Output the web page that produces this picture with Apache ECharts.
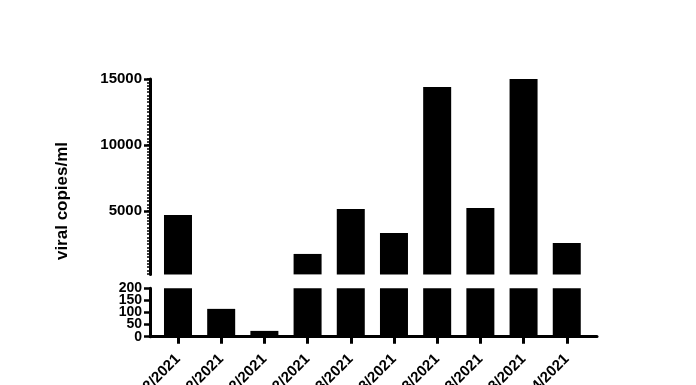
<!DOCTYPE html>
<html>
<head>
<meta charset="utf-8">
<script src="https://cdn.jsdelivr.net/npm/echarts@6/dist/echarts.min.js"></script>
<style>html,body{margin:0;padding:0;background:#fff}#c{width:696px;height:385px}</style>
</head>
<body>
<div id="c"></div>
<script>
const categories = ["01/02/2021","08/02/2021","15/02/2021","22/02/2021","01/03/2021","08/03/2021","15/03/2021","22/03/2021","29/03/2021","05/04/2021"];
const viralCopies = [4700, 115, 24, 1750, 5150, 3330, 14400, 5230, 15000, 2580];
const topMajorTicks = [5000, 10000, 15000];
const bottomTicks = [0, 50, 100, 150, 200];
const yTitle = "viral copies/ml";

const topMinorTicks = [];
for (let v = 250; v <= 15000; v += 250) topMinorTicks.push(v);
const idx = categories.map((_, i) => i);
const pairs = viralCopies.map((v, i) => [i, v]);
const bottomEven = bottomTicks.filter((_, i) => i % 2 === 0);
const bottomOdd = bottomTicks.filter((_, i) => i % 2 === 1);

const FONT = "Liberation Sans, Arial, sans-serif";
const chart = echarts.init(document.getElementById('c'), null, {renderer: 'canvas'});
const axisLine = {show: true, onZero: false, lineStyle: {color: '#000', width: 3}};
const plain = v => String(v);
const bottomLabel = vals => ({customValues: vals, formatter: plain, showMinLabel: true, showMaxLabel: true, hideOverlap: false,
  margin: 8, color: '#000', fontFamily: FONT, fontWeight: 'bold', fontSize: 14, lineHeight: 10});
chart.setOption({
  animation: false,
  backgroundColor: '#fff',
  grid: [
    {left: 150, width: 447, top: 79, height: 195.4, containLabel: false, outerBoundsMode: 'none'},
    {left: 150, width: 447, top: 288.3, height: 48.4, containLabel: false, outerBoundsMode: 'none'}
  ],
  xAxis: [
    {gridIndex: 0, type: 'value', min: -0.648, max: 9.70, show: false},
    {gridIndex: 1, type: 'value', min: -0.648, max: 9.70,
     axisLine: axisLine,
     axisTick: {show: true, customValues: idx, length: 7, lineStyle: {color: '#000', width: 3}},
     axisLabel: {customValues: idx, formatter: v => categories[Math.round(v)], rotate: 45, margin: 20, hideOverlap: false,
       color: '#000', fontFamily: FONT, fontWeight: 'bold', fontSize: 15},
     splitLine: {show: false}}
  ],
  yAxis: [
    {gridIndex: 0, type: 'value', position: 'left', min: 200, max: 15000, axisLine: axisLine,
     axisTick: {show: true, customValues: topMajorTicks, length: 6, lineStyle: {color: '#000', width: 2.5}},
     axisLabel: {customValues: topMajorTicks, formatter: plain, showMaxLabel: true, margin: 8, color: '#000', fontFamily: FONT, fontWeight: 'bold', fontSize: 15},
     splitLine: {show: false}},
    {gridIndex: 0, type: 'value', position: 'left', min: 200, max: 15000, axisLine: {show: false, onZero: false},
     axisTick: {show: true, customValues: topMinorTicks, length: 3, lineStyle: {color: '#000', width: 1.5}},
     axisLabel: {show: false}, splitLine: {show: false}},
    {gridIndex: 1, type: 'value', position: 'left', min: 0, max: 200, axisLine: axisLine,
     axisTick: {show: true, customValues: bottomEven, length: 6, lineStyle: {color: '#000', width: 2.5}},
     axisLabel: bottomLabel(bottomEven), splitLine: {show: false}},
    {gridIndex: 1, type: 'value', position: 'left', min: 0, max: 200, axisLine: {show: false, onZero: false},
     axisTick: {show: true, customValues: bottomOdd, length: 6, lineStyle: {color: '#000', width: 2.5}},
     axisLabel: bottomLabel(bottomOdd), splitLine: {show: false}}
  ],
  series: [
    {type: 'bar', xAxisIndex: 0, yAxisIndex: 0, data: pairs, barWidth: 28, clip: true, itemStyle: {color: '#000'}},
    {type: 'bar', xAxisIndex: 1, yAxisIndex: 2, data: pairs, barWidth: 28, clip: true, itemStyle: {color: '#000'}}
  ],
  graphic: [
    {type: 'text', x: 62, y: 201, rotation: Math.PI / 2,
     style: {text: yTitle, fill: '#000', font: 'bold 17px ' + FONT, align: 'center', verticalAlign: 'middle'}}
  ]
});
</script>
</body>
</html>
